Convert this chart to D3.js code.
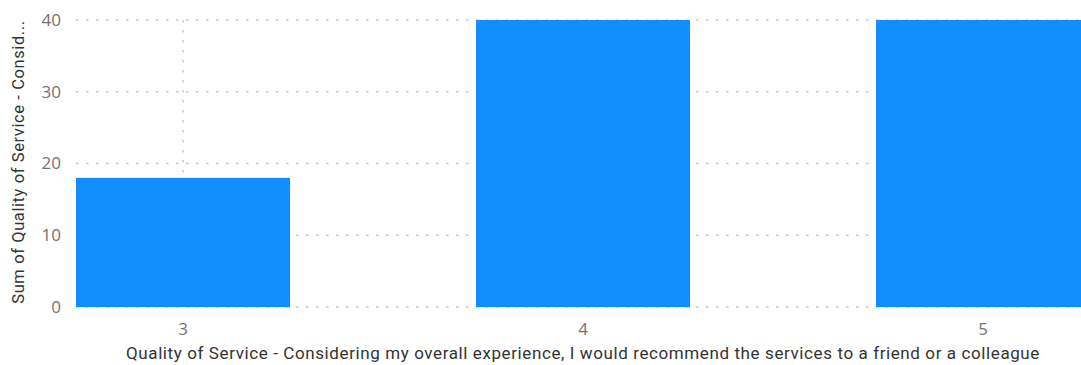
<!DOCTYPE html>
<html>
<head>
<meta charset="utf-8">
<script src="https://cdn.jsdelivr.net/npm/d3@7"></script>
<style>
  body { margin: 0; background: #fff; }
  .grid line { stroke: #c8c8c8; stroke-width: 1.5; stroke-dasharray: 2.5,7.5; }
  .tick-label { font-family: "Open Sans", sans-serif; fill: #737373; }
  .axis-title { font-family: Roboto, sans-serif; fill: #333; letter-spacing: 0.6px; }
</style>
</head>
<body>
<div id="chart"></div>
<script>
var categories = ['3', '4', '5'];
var values = [18, 40, 40];
var yTicks = [0, 10, 20, 30, 40];
var xTitle = 'Quality of Service - Considering my overall experience, I would recommend the services to a friend or a colleague';
var yTitle = 'Sum of Quality of Service - Consid...';

var width = 1081, height = 365;
var margin = { top: 20, right: 0, bottom: 58, left: 76 };

var svg = d3.select('#chart')
    .append('svg')
    .attr('width', width)
    .attr('height', height);

// plot area is wider than the window, last bar gets clipped like in the report
let x = d3.scaleBand()
    .domain(categories)
    .range([margin.left, 1090])
    .paddingInner(0.465)
    .paddingOuter(0);

let y = d3.scaleLinear()
    .domain([0, 40])
    .range([height - margin.bottom, margin.top]);

let plot = svg.append('g');

// horizontal gridlines
plot.append('g')
    .attr('class', 'grid')
    .selectAll('line')
    .data(yTicks)
    .enter()
    .append('line')
    .attr('x1', margin.left)
    .attr('x2', width)
    .attr('y1', d => y(d))
    .attr('y2', d => y(d));

// vertical gridlines at category centres
plot.append('g')
    .attr('class', 'grid')
    .selectAll('line')
    .data(categories)
    .enter()
    .append('line')
    .attr('x1', d => x(d) + x.bandwidth() / 2)
    .attr('x2', d => x(d) + x.bandwidth() / 2)
    .attr('y1', y(40))
    .attr('y2', y(0));

plot.selectAll('rect.bar')
    .data(values)
    .enter()
    .append('rect')
    .attr('class', 'bar')
    .attr('x', (d, i) => x(categories[i]))
    .attr('width', x.bandwidth())
    .attr('y', d => y(d))
    .attr('height', d => y(0) - y(d))
    .style('fill', '#118dff');

// y tick labels
svg.selectAll('text.yLabel')
    .data(yTicks)
    .enter()
    .append('text')
    .attr('class', 'tick-label yLabel')
    .attr('x', 61)
    .attr('y', d => y(d))
    .attr('dy', '0.35em')
    .style('text-anchor', 'end')
    .style('font-size', '17px')
    .text(d => d);

// x tick labels
svg.selectAll('text.xLabel')
    .data(categories)
    .enter()
    .append('text')
    .attr('class', 'tick-label xLabel')
    .attr('x', d => x(d) + x.bandwidth() / 2)
    .attr('y', y(0) + 28)
    .style('text-anchor', 'middle')
    .style('font-size', '17px')
    .text(d => d);

svg.append('text')
    .attr('class', 'axis-title')
    .attr('x', 583)
    .attr('y', 359)
    .style('text-anchor', 'middle')
    .style('font-size', '17px')
    .text(xTitle);

svg.append('text')
    .attr('class', 'axis-title')
    .attr('transform', 'translate(24, 162) rotate(-90)')
    .style('text-anchor', 'middle')
    .style('font-size', '16.5px')
    .text(yTitle);
</script>
</body>
</html>
